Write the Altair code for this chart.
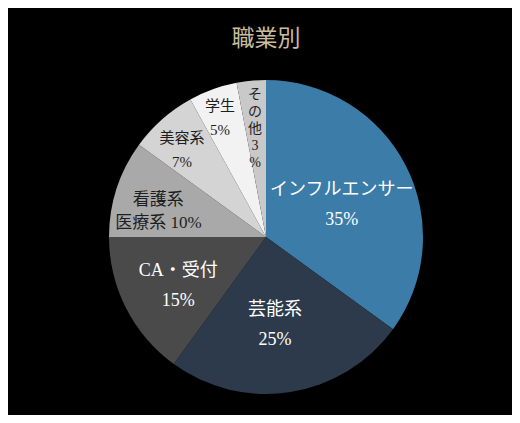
import altair as alt
import pandas as pd

# ---- data ----
categories = ["インフルエンサー", "芸能系", "CA・受付", "看護系 医療系", "美容系", "学生", "その他"]
values = [35, 25, 15, 10, 7, 5, 3]
labels = [
    "インフルエンサー\n35%",
    "芸能系\n25%",
    "CA・受付\n15%",
    "看護系\n医療系  10%",
    "美容系\n7%",
    "学生\n5%",
    "そ\nの\n他\n3\n%",
]

# ---- styling / layout ----
colors = ["#3b7ca8", "#2c3a4b", "#4a4a4a", "#a9a9a9", "#d4d4d4", "#f2f2f2", "#c9c9c9"]
label_group = ["dark", "dark", "dark", "mid", "light", "light", "vert"]
label_radius = [89, 74, 94, 114, 130, 139, 142]       # px from centre
label_angle_shift = [-4.7, 2.0, 5.9, 1.2, 1.2, 0.5, 1.0]  # degrees off mid-angle
FONT = "Liberation Serif, Noto Sans CJK JP"

df = pd.DataFrame({
    "cat": categories,
    "value": values,
    "idx": list(range(len(categories))),
    "label": labels,
    "grp": label_group,
    "lr": label_radius,
    "ls": label_angle_shift,
})

arcs = alt.Chart(df).mark_arc(radius=157, strokeWidth=0).encode(
    theta=alt.Theta("value:Q", stack=True),
    order=alt.Order("idx:Q", sort="ascending"),
    color=alt.Color("cat:N", scale=alt.Scale(domain=categories, range=colors), legend=None),
)

# mid-angle of each slice computed from cumulative values
label_base = alt.Chart(df).transform_window(
    cum="sum(value)", sort=[alt.SortField("idx", order="ascending")],
    frame=[None, 0],
).transform_joinaggregate(
    total="sum(value)"
).transform_calculate(
    ang="2 * PI * (datum.cum - datum.value / 2) / datum.total + datum.ls * PI / 180"
)

def text_layer(group, color, size, line_height):
    return label_base.transform_filter(
        alt.datum.grp == group
    ).mark_text(
        font=FONT, fontSize=size, color=color, lineBreak="\n",
        lineHeight=line_height, align="center", baseline="middle"
    ).encode(
        theta=alt.Theta("ang:Q", scale=None, stack=None),
        radius=alt.Radius("lr:Q", scale=None),
        text=alt.Text("label:N"),
    )

dark_text = text_layer("dark", "#ffffff", 18, 30)
mid_text = text_layer("mid", "#1e1e1e", 17, 23)
light_text = text_layer("light", "#1e1e1e", 15, 24)
vert_text = text_layer("vert", "#1e1e1e", 14, 17)

chart = alt.layer(arcs, dark_text, mid_text, light_text, vert_text).properties(
    width=504,
    height=407,
    autosize=alt.AutoSizeParams(type="fit", contains="padding"),
    padding={"left": 12, "top": 20, "right": 0, "bottom": 0},
    background="#000000",
    title=alt.Title("職業別", fontSize=23, color="#c9bd9f", font=FONT,
                    fontWeight="normal", offset=8, anchor="middle"),
).configure_view(stroke=None)

chart.save("out.html", embed_options={"renderer": "svg", "actions": False})
